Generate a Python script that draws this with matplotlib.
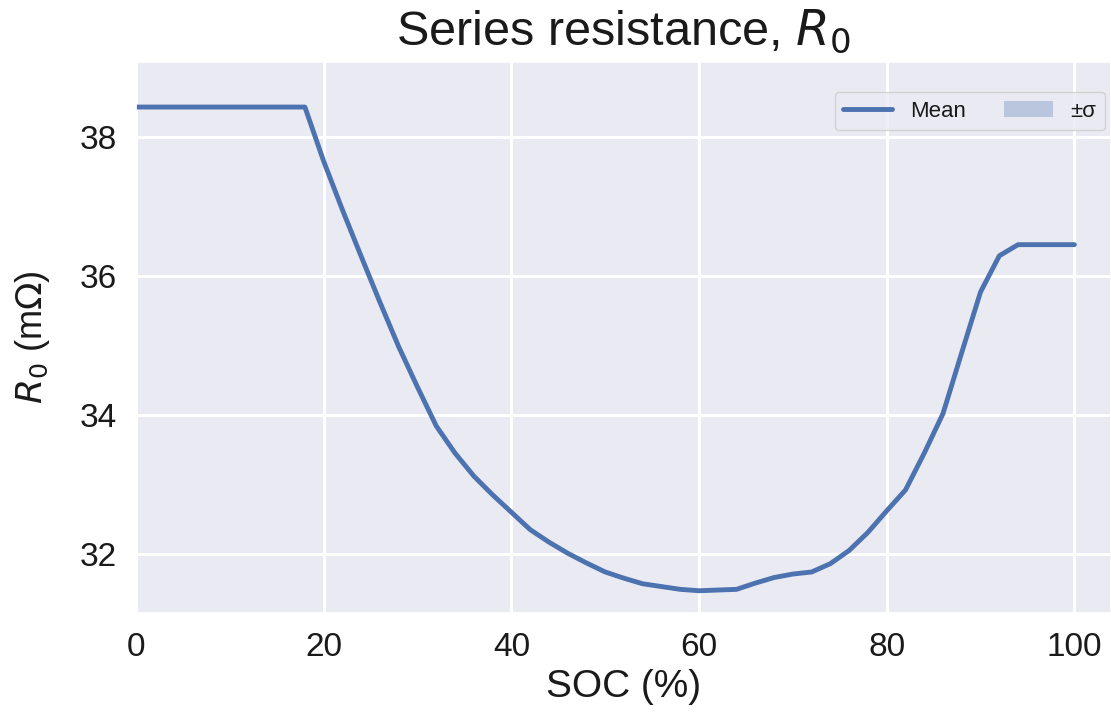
import matplotlib
matplotlib.use("Agg")
from matplotlib import pyplot as plt
import seaborn as sns
import numpy as np

# SOC grid (%) and mean series resistance (mOhm)
soc = [0, 2, 4, 6, 8, 10, 12, 14, 16, 18,
       20, 22, 24, 26, 28, 30, 32, 34, 36, 38,
       40, 42, 44, 46, 48, 50, 52, 54, 56, 58,
       60, 62, 64, 66, 68, 70, 72, 74, 76, 78,
       80, 82, 84, 86, 88, 90, 92, 94, 96, 98, 100]
r0_mean = [38.43, 38.43, 38.43, 38.43, 38.43, 38.43, 38.43, 38.43, 38.43, 38.43,
           37.65, 36.95, 36.28, 35.62, 34.98, 34.40, 33.84, 33.45, 33.12, 32.85,
           32.60, 32.35, 32.17, 32.01, 31.87, 31.74, 31.65, 31.57, 31.53, 31.49,
           31.47, 31.48, 31.49, 31.58, 31.66, 31.71, 31.74, 31.86, 32.05, 32.31,
           32.62, 32.92, 33.45, 34.02, 34.90, 35.77, 36.29, 36.45, 36.45, 36.45, 36.45]
r0_std = np.zeros(len(soc))  # band is not visible in the figure

sns.set_theme(style="darkgrid")
plt.rcParams['font.family'] = ['Liberation Sans', 'DejaVu Sans']
plt.rcParams['mathtext.fontset'] = 'dejavusans'
plt.rcParams['text.color'] = '#1a1a1a'
plt.rcParams['axes.labelcolor'] = '#1a1a1a'
plt.rcParams['xtick.color'] = '#1a1a1a'
plt.rcParams['ytick.color'] = '#1a1a1a'

fig = plt.figure(figsize=(11.11, 7.28), dpi=100)
ax = fig.add_axes([0.1224, 0.158, 0.8776, 0.757])

mean = np.array(r0_mean)
ax.plot(soc, mean, color='#4c72b0', lw=3.5, label='Mean')
ax.fill_between(soc, mean - r0_std, mean + r0_std, color='#4c72b0', alpha=0.3,
                lw=0, label='±σ')

ax.set_xlim(0, 103.9)
ax.set_ylim(31.15, 39.08)
ax.set_xticks([0, 20, 40, 60, 80, 100])
ax.set_yticks([32, 34, 36, 38])
ax.grid(True, color='white', lw=2.2)
ax.tick_params(labelsize=24, pad=8)

ax.set_xlabel("SOC (%)", fontsize=28, labelpad=4)
ax.set_ylabel(r"$R_0$ (m$\Omega$)", fontsize=26, labelpad=20)
ax.set_title(r"Series resistance, $R_0$", fontsize=35, pad=12)

ax.legend(loc='upper right', bbox_to_anchor=(0.994, 0.946), borderaxespad=0,
          ncol=2, fontsize=16, frameon=True,
          handlelength=2.2, columnspacing=1.7)

plt.savefig('out.png', dpi=100)
